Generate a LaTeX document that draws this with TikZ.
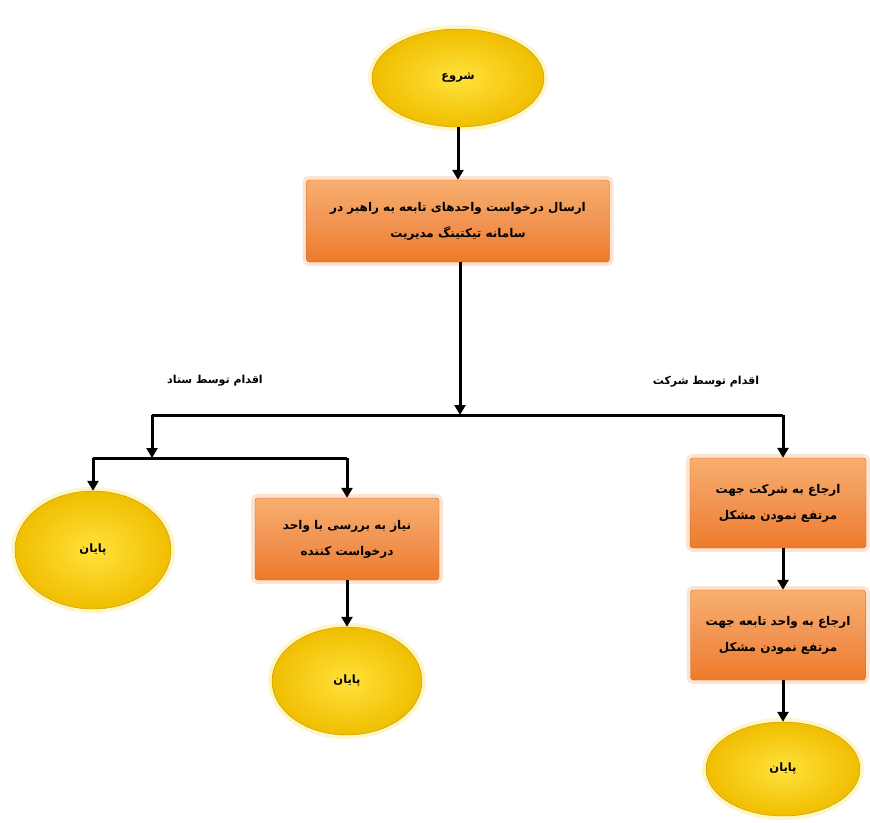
\documentclass[tikz,border=0pt]{standalone}
\usepackage{fontspec}
\newfontfamily\farsi[Script=Arabic]{DejaVu Sans}
\TeXXeTstate=1
\usetikzlibrary{arrows.meta,positioning,shapes.geometric,shadows}
\definecolor{endgold}{RGB}{240,190,0}
\definecolor{endlight}{RGB}{255,226,60}
\definecolor{stepedge}{RGB}{210,95,25}
\definecolor{steporange}{RGB}{238,122,40}
\definecolor{steplight}{RGB}{248,175,110}

\begin{document}
\begin{tikzpicture}[x=1pt, y=-1pt,
    terminal/.style={ellipse, draw=endgold!80!black, line width=0.4pt,
        inner color=endlight, outer color=endgold,
        preaction={draw=endlight!40, line width=8pt, opacity=.7},
        font=\farsi\bfseries\fontsize{11.5}{14}\selectfont},
    action/.style={rectangle, rounded corners=3pt, draw=stepedge, line width=0.4pt,
        top color=steplight, bottom color=steporange, middle color=steporange!80!white,
        preaction={draw=steporange!25, line width=8pt, opacity=.8},
        align=center, font=\farsi\bfseries\fontsize{12}{26}\selectfont},
    flow/.style={line width=3pt, -{Triangle[length=10pt,width=11pt]}},
    link/.style={line width=3pt},
    note/.style={font=\farsi\bfseries\fontsize{11}{13}\selectfont}
]
\fill[white] (0,0) rectangle (870,822);
\useasboundingbox (0,0) rectangle (870,822);

\node[terminal, minimum width=172pt, minimum height=98pt] (start) at (458,78) {\beginR شروع\endR};
\node[action, minimum width=303pt, minimum height=82pt] (send) at (458,221)
    {\beginR ارسال درخواست واحدهای تابعه به راهبر در\endR\\\beginR سامانه تیکتینگ مدیریت\endR};

\coordinate (split) at (460,415);
\coordinate (left) at (152,415);
\coordinate (right) at (783,415);
\coordinate (lsplit) at (152,458);
\coordinate (la) at (93,458);
\coordinate (lb) at (347,458);

\node[note] (hq) at (215,381) {\beginR اقدام توسط ستاد\endR};
\node[note] (co) at (706,382) {\beginR اقدام توسط شرکت\endR};

\node[terminal, minimum width=156pt, minimum height=118pt] (end1) at (93,550) {\beginR پایان\endR};
\node[action, minimum width=184pt, minimum height=82pt] (review) at (347,539)
    {\beginR نیاز به بررسی با واحد\endR\\\beginR درخواست کننده\endR};
\node[terminal, minimum width=150pt, minimum height=108pt] (end2) at (347,681) {\beginR پایان\endR};

\node[action, minimum width=176pt, minimum height=90pt] (refer1) at (778,503)
    {\beginR ارجاع به شرکت جهت\endR\\\beginR مرتفع نمودن مشکل\endR};
\node[action, minimum width=175pt, minimum height=90pt] (refer2) at (778,635)
    {\beginR ارجاع به واحد تابعه جهت\endR\\\beginR مرتفع نمودن مشکل\endR};
\node[terminal, minimum width=154pt, minimum height=94pt] (end3) at (783,769) {\beginR پایان\endR};

\draw[flow] (start) -- (send);
\draw[flow] (send.south -| split) -- (split);
\draw[link] (left) -- (right);
\draw[flow] (left) -- (lsplit);
\draw[link] (la) -- (lb);
\draw[flow] (la) -- (end1.north);
\draw[flow] (lb) -- (review.north);
\draw[flow] (review) -- (end2);
\draw[flow] (right) -- (right |- refer1.north);
\draw[flow] (refer1.south -| right) -- (refer2.north -| right);
\draw[flow] (refer2.south -| right) -- (end3.north);
\end{tikzpicture}
\end{document}
